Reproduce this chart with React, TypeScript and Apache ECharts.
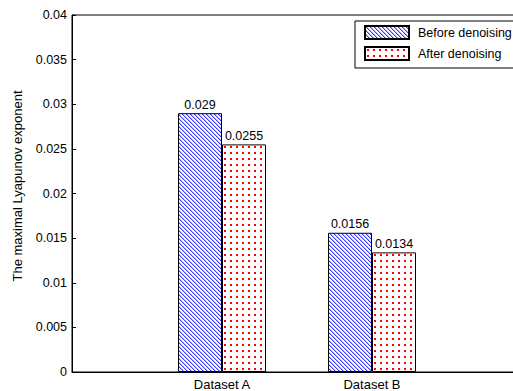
import React, { useEffect, useRef } from "react";
import * as echarts from "echarts";

const categories = ["", "Dataset A", "Dataset B", ""];
const seriesNames = ["Before denoising", "After denoising"];
const beforeValues = [null, 0.029, 0.0156, null];
const afterValues = [null, 0.0255, 0.0134, null];
const yMin = 0;
const yMax = 0.04;
const yStep = 0.005;
const yTitle = "The maximal Lyapunov exponent";

const FONT = "'Liberation Sans', Arial, Helvetica, sans-serif";

function makeHatch(): HTMLCanvasElement {
  const c = document.createElement("canvas");
  c.width = 4;
  c.height = 4;
  const ctx = c.getContext("2d")!;
  ctx.fillStyle = "#ffffff";
  ctx.fillRect(0, 0, 4, 4);
  for (let i = 0; i < 4; i++) {
    ctx.fillStyle = "#3a3aff";
    ctx.fillRect(i, i, 1, 1);
    ctx.fillStyle = "#b4b4ff";
    ctx.fillRect((i + 1) % 4, i, 1, 1);
  }
  return c;
}

function makeDots(): HTMLCanvasElement {
  const c = document.createElement("canvas");
  c.width = 6;
  c.height = 6;
  const ctx = c.getContext("2d")!;
  ctx.fillStyle = "#ffffff";
  ctx.fillRect(0, 0, 6, 6);
  ctx.fillStyle = "#ff0000";
  ctx.fillRect(2, 2, 2, 2);
  return c;
}

export default function App() {
  const ref = useRef<HTMLDivElement>(null);
  useEffect(() => {
    if (!ref.current) return;
    const chart = echarts.init(ref.current, null, { renderer: "svg" });
    const hatch = makeHatch();
    const dots = makeDots();
    const hatchFill: any = { image: hatch, repeat: "repeat", imageWidth: 4, imageHeight: 4 };
    const dotFill: any = { image: dots, repeat: "repeat", imageWidth: 6, imageHeight: 6 };
    const labelStyle = {
      show: true,
      position: "top" as const,
      distance: 2,
      color: "#000",
      fontFamily: FONT,
      fontSize: 12.5,
      formatter: (p: any) => String(p.value),
    };
    chart.setOption({
      animation: false,
      backgroundColor: "#ffffff",
      textStyle: { fontFamily: FONT },
      grid: {
        left: 72,
        top: 15,
        width: 450,
        height: 357,
        containLabel: false,
        outerBoundsMode: "none",
        show: true,
        borderColor: "#000",
        borderWidth: 1,
        backgroundColor: "transparent",
      },
      legend: {
        orient: "vertical",
        left: 355,
        top: 21,
        padding: [4, 12, 7, 9],
        itemWidth: 44,
        itemHeight: 13,
        itemGap: 6,
        borderColor: "#000",
        borderWidth: 1,
        backgroundColor: "#fff",
        icon: "rect",
        textStyle: { color: "#000", fontFamily: FONT, fontSize: 12.5, padding: [0, 0, 0, 4] },
        data: seriesNames,
      },
      xAxis: {
        type: "category",
        data: categories,
        boundaryGap: false,
        axisLine: { lineStyle: { color: "#000", width: 1 } },
        axisTick: { show: false },
        axisLabel: { color: "#000", fontFamily: FONT, fontSize: 13, margin: 6, interval: 0 },
        splitLine: { show: false },
      },
      yAxis: {
        type: "value",
        min: yMin,
        max: yMax,
        interval: yStep,
        axisLine: { show: true, lineStyle: { color: "#000", width: 1 } },
        axisTick: { show: true, inside: true, length: 4, lineStyle: { color: "#000" } },
        axisLabel: {
          color: "#000",
          fontFamily: FONT,
          fontSize: 12.5,
          margin: 5,
          formatter: (v: number) => String(+v.toFixed(4)),
        },
        splitLine: { show: false },
      },
      graphic: [
        {
          type: "text",
          x: 17,
          y: 186,
          rotation: Math.PI / 2,
          style: {
            text: yTitle,
            fill: "#000",
            font: `13px ${FONT}`,
            align: "center",
            verticalAlign: "middle",
          },
        },
      ],
      series: [
        {
          name: seriesNames[0],
          type: "bar",
          data: beforeValues,
          barWidth: 44,
          barGap: "0%",
          itemStyle: { color: hatchFill, borderColor: "#000", borderWidth: 1 },
          label: labelStyle,
        },
        {
          name: seriesNames[1],
          type: "bar",
          data: afterValues,
          barWidth: 44,
          barGap: "0%",
          itemStyle: { color: dotFill, borderColor: "#000", borderWidth: 1 },
          label: labelStyle,
        },
      ],
    });
    return () => chart.dispose();
  }, []);
  return (
    <div
      ref={ref}
      style={{ position: "fixed", left: 0, top: 0, width: 513, height: 391, background: "#fff" }}
    />
  );
}
